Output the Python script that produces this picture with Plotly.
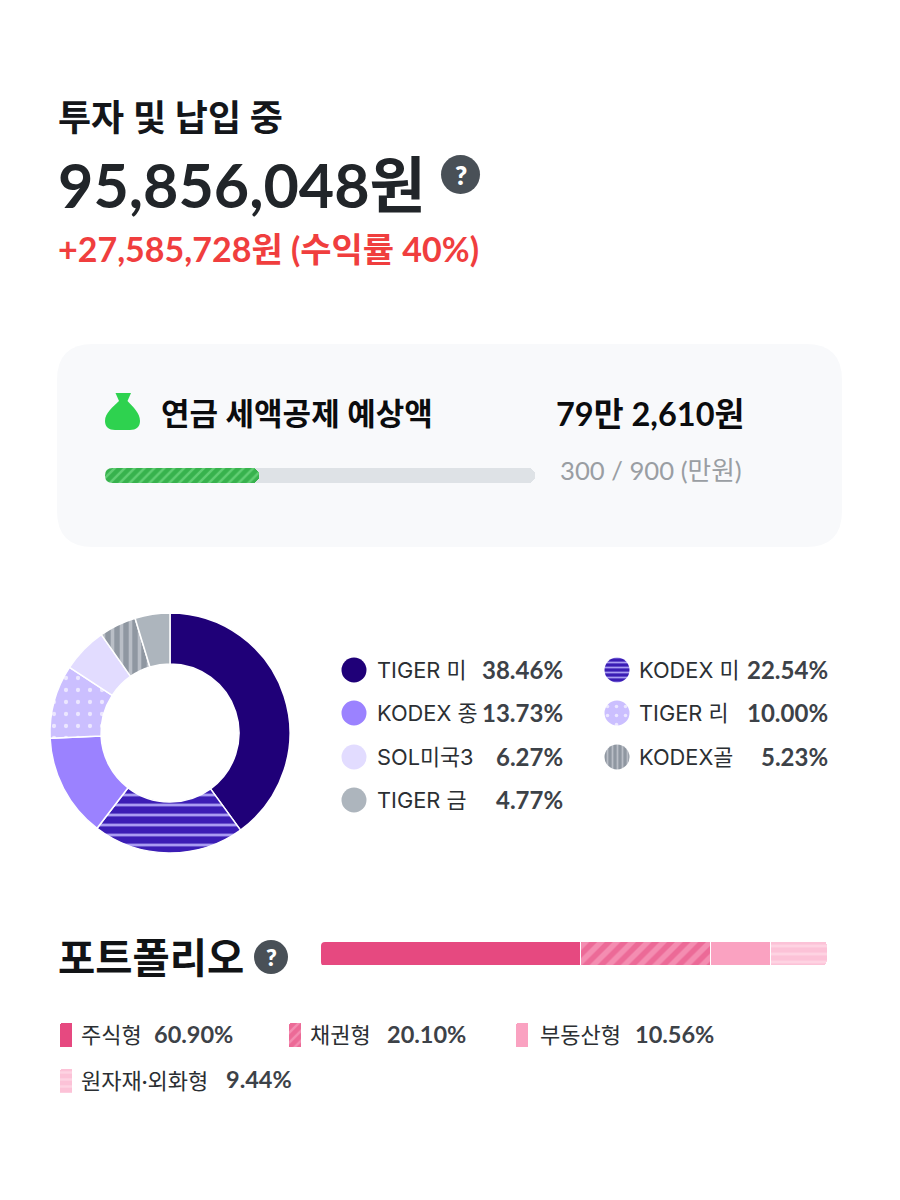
import plotly.graph_objects as go

W, H = 900, 1200
FONT = "Lato, 'Noto Sans CJK KR', sans-serif"
LEG_FONT = "Inter, 'Noto Sans CJK KR', sans-serif"

# ---- data ----
fund_names = ["TIGER 미", "KODEX 미", "KODEX 종", "TIGER 리", "SOL미국3", "KODEX골", "TIGER 금"]
# slice sizes as drawn in the picture, which differ a little from the printed shares
fund_values = [40.0, 20.4, 13.9, 9.9, 6.1, 5.0, 4.7]
fund_labels = ["38.46%", "22.54%", "13.73%", "10.00%", "6.27%", "5.23%", "4.77%"]
fund_colors = ["#1f0078", "#3b1db5", "#9b82ff", "#cbbfff", "#e2dcff", "#8f97a1", "#adb5bd"]
fund_shapes = ["", "-", "", ".", "", "|", ""]
fund_fg = ["#1f0078", "#a99cf2", "#9b82ff", "#ece7ff", "#e2dcff", "#b9bec6", "#adb5bd"]

asset_names = ["주식형", "채권형", "부동산형", "원자재·외화형"]
# segment lengths as drawn in the picture
asset_values = [51.3, 25.6, 11.8, 11.3]
asset_labels = ["60.90%", "20.10%", "10.56%", "9.44%"]
asset_colors = ["#e64980", "#ec6a97", "#faa2c1", "#fcc2d7"]
asset_shapes = ["", "/", "", "-"]
asset_fg = ["#e64980", "#fbb0cb", "#faa2c1", "#ffe3ed"]

savings_fill = [322]
savings_total = [900]


def yd(top, bottom):
    return [1 - bottom / H, 1 - top / H]


def xd(left, right):
    return [left / W, right / W]


fig = go.Figure()

# donut
fig.add_trace(go.Pie(
    labels=fund_names, values=fund_values, sort=False, direction="clockwise", rotation=0,
    hole=0.575, textinfo="none", showlegend=False, hoverinfo="label+percent",
    domain=dict(x=xd(50, 290), y=yd(613, 853)),
    marker=dict(colors=fund_colors, line=dict(color="white", width=1.5),
                pattern=dict(shape=fund_shapes, fgcolor=fund_fg, bgcolor=fund_colors,
                             size=[8, 10, 8, 12, 8, 9, 8], solidity=[.3, .28, .3, .1, .3, .4, .3])),
))

# donut legend swatches (single-slice pies) and labels
leg_pos = [(354, 670), (617, 670), (354, 713), (617, 713), (354, 757), (617, 757), (354, 800)]
order = [0, 1, 2, 3, 4, 5, 6]
for i, (cx, cy) in zip(order, leg_pos):
    r = 12.5
    fig.add_trace(go.Pie(
        labels=[fund_names[i]], values=[fund_values[i]], textinfo="none", showlegend=False, hoverinfo="skip",
        domain=dict(x=xd(cx - r, cx + r), y=yd(cy - r, cy + r)),
        marker=dict(colors=[fund_colors[i]], line=dict(width=0),
                    pattern=dict(shape=[fund_shapes[i]], fgcolor=[fund_fg[i]], bgcolor=[fund_colors[i]],
                                 size=[5 if fund_shapes[i] != "." else 9], solidity=[.35 if fund_shapes[i] != "." else .12])),
    ))

# savings track and fill
fig.add_trace(go.Bar(x=savings_total, y=["a"], orientation="h", xaxis="x3", yaxis="y3", width=1,
                     marker=dict(color="#dee2e6", cornerradius=8, line=dict(width=0)), showlegend=False, hoverinfo="skip"))
fig.add_trace(go.Bar(x=savings_fill, y=["a"], orientation="h", xaxis="x4", yaxis="y4", width=1,
                     marker=dict(color="#37b24d", cornerradius=8, line=dict(width=0),
                                 pattern=dict(shape="/", bgcolor="#37b24d", fgcolor="#8ce99a", size=7, solidity=.35)),
                     showlegend=False, hoverinfo="x"))

# portfolio stacked bar
for i in range(4):
    fig.add_trace(go.Bar(x=[asset_values[i]], y=["p"], orientation="h", xaxis="x2", yaxis="y2", width=1, name=asset_names[i],
                         marker=dict(color=asset_colors[i], cornerradius=4, line=dict(color="white", width=1.5),
                                     pattern=dict(shape=asset_shapes[i], bgcolor=asset_colors[i], fgcolor=asset_fg[i],
                                                  size=[10, 11, 10, 8][i], solidity=[.35, .5, .35, .35][i])),
                         showlegend=False, hoverinfo="name+x"))

# portfolio legend swatches
sw_pos = [(60, 1023), (289, 1023), (516, 1023), (60, 1069)]
for i, (sx, sy) in enumerate(sw_pos):
    fig.add_trace(go.Bar(x=[""], y=[1], orientation="v", xaxis=f"x{5+i}", yaxis=f"y{5+i}", width=1,
                         marker=dict(color=asset_colors[i], cornerradius=2, line=dict(width=0),
                                     pattern=dict(shape=asset_shapes[i], bgcolor=asset_colors[i], fgcolor=asset_fg[i],
                                                  size=7, solidity=.35)),
                         showlegend=False, hoverinfo="skip"))

layout_axes = dict(
    xaxis=dict(range=[0, W], domain=[0, 1], visible=False, fixedrange=True),
    yaxis=dict(range=[H, 0], domain=[0, 1], visible=False, fixedrange=True),
    xaxis2=dict(range=[0, 100], domain=xd(321, 828), visible=False, anchor="y2"),
    yaxis2=dict(domain=yd(942, 966), visible=False, anchor="x2", range=[-.5, .5]),
    xaxis3=dict(range=[0, 900], domain=xd(105, 535), visible=False, anchor="y3"),
    yaxis3=dict(domain=yd(468, 483), visible=False, anchor="x3", range=[-.5, .5]),
    xaxis4=dict(range=[0, 900], domain=xd(105, 535), visible=False, anchor="y4"),
    yaxis4=dict(domain=yd(468, 483), visible=False, anchor="x4", range=[-.5, .5]),
)
for i, (sx, sy) in enumerate(sw_pos):
    layout_axes[f"xaxis{5+i}"] = dict(domain=xd(sx, sx + 12), visible=False, anchor=f"y{5+i}", range=[-.5, .5])
    layout_axes[f"yaxis{5+i}"] = dict(domain=yd(sy, sy + 24), visible=False, anchor=f"x{5+i}", range=[0, 1])


def left_corners(x, top, bottom, r, color):
    """Background-coloured masks that round the left end of a stacked bar."""
    return [
        dict(type="path", xref="x", yref="y", layer="above", line=dict(width=0), fillcolor=color,
             path=f"M {x-1} {top-1} L {x+r} {top-1} L {x+r} {top} Q {x} {top} {x} {top+r} L {x-1} {top+r} Z"),
        dict(type="path", xref="x", yref="y", layer="above", line=dict(width=0), fillcolor=color,
             path=f"M {x-1} {bottom+1} L {x+r} {bottom+1} L {x+r} {bottom} Q {x} {bottom} {x} {bottom-r} L {x-1} {bottom-r} Z"),
    ]


CARD = "#f8f9fb"
shapes = [
    # card
    dict(type="path", xref="x", yref="y", layer="below", line=dict(width=0), fillcolor=CARD,
         path="M 93 344 L 806 344 Q 842 344 842 380 L 842 511 Q 842 547 806 547 L 93 547 Q 57 547 57 511 L 57 380 Q 57 344 93 344 Z"),
    # money bag
    dict(type="path", xref="x", yref="y", line=dict(width=0), fillcolor="#2ed24f",
         path="M 115.5 393 L 131 393 L 127.5 401 C 133 407 140 413 140 421 C 140 427 136 430 130 430 "
              "L 115 430 C 109 430 105 427 105 421 C 105 413 113 407 119 401 Z"),
    # help icons
    dict(type="circle", xref="x", yref="y", x0=441, x1=480, y0=155, y1=194, line=dict(width=0), fillcolor="#495057"),
    dict(type="circle", xref="x", yref="y", x0=254, x1=288, y0=940, y1=974, line=dict(width=0), fillcolor="#495057"),
] + left_corners(105, 468, 483, 7.5, CARD) + left_corners(321, 942, 966, 4, "white")


def txt(x, y, s, size, color, weight=400, anchor="left", family=FONT):
    return dict(x=x, y=y, xref="x", yref="y", text=s, showarrow=False, xanchor=anchor, yanchor="middle",
                borderpad=0, font=dict(family=family, size=size, color=color, weight=weight))


ann = [
    txt(57, 117, "투자 및 납입 중", 36, "#14161a", 700),
    txt(57, 184, "95,856,048원", 61, "#212529", 700),
    txt(57, 248, "+27,585,728원 (수익률 40%)", 34, "#f03e3e", 700),
    txt(460.5, 175, "?", 26, "white", 800, "center"),
    txt(160, 413, "연금 세액공제 예상액", 31, "#0b0c0e", 700),
    txt(555, 413, "79만 2,610원", 32.5, "#0b0c0e", 700),
    txt(743, 470, "300 / 900 (만원)", 25.7, "#9a9ea3", 400, "right"),
    txt(57, 957, "포트폴리오", 40.5, "#111315", 700),
    txt(271, 957, "?", 23, "white", 800, "center"),
]

leg_label_x = {354: 376, 617: 638}
leg_value_x = {354: 564, 617: 829}
for i, (cx, cy) in zip(order, leg_pos):
    ann.append(txt(leg_label_x[cx], cy, fund_names[i], 21.8, "#2b2f33", 400, family=LEG_FONT))
    ann.append(txt(leg_value_x[cx], cy - 1, fund_labels[i], 24, "#3d4248", 700, "right"))

asset_name_pos = [(80, 1034), (309, 1034), (539, 1034), (80, 1080)]
asset_val_pos = [(153, 1034), (386, 1034), (634, 1034), (225, 1079)]
for i in range(4):
    ann.append(txt(*asset_name_pos[i], asset_names[i], 22, "#2b2f33", 400))
    ann.append(txt(*asset_val_pos[i], asset_labels[i], 23.5, "#3d4248", 700))

# invisible anchor so that the page axes exist
fig.add_trace(go.Scatter(x=[0, W], y=[0, H], mode="markers", marker=dict(opacity=0), showlegend=False, hoverinfo="skip"))

fig.update_layout(width=W, height=H, margin=dict(l=0, r=0, t=0, b=0), autosize=False,
                  paper_bgcolor="white", plot_bgcolor="rgba(0,0,0,0)", barmode="stack", bargap=0,
                  shapes=shapes, annotations=ann, showlegend=False, font=dict(family=FONT), **layout_axes)

fig.write_html("out.html", config=dict(displayModeBar=False),
               post_script="document.body.style.margin='0';")
